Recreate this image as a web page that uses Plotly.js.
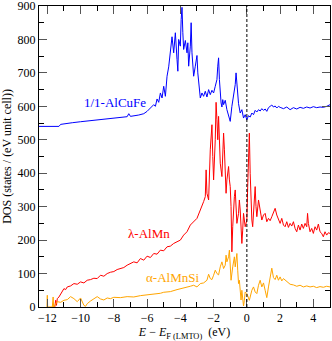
<!DOCTYPE html>
<html>
<head>
<meta charset="utf-8">
<script src="https://cdn.plot.ly/plotly-3.0.1.min.js"></script>
<style>
  html, body { margin: 0; padding: 0; background: #fff; }
  #chart { width: 332px; height: 341px; }
</style>
</head>
<body>
<div id="chart"></div>
<script>
// DOS curves (energy in eV, DOS in states / (eV unit cell)).
const alCuFeE = [-12.5, -11.3, -11.2, -11.0, -10.5, -10.0, -9.5, -9.0, -8.5, -8.0, -7.5, -7.2, -7.1, -7.0, -6.5, -6.2, -6.0, -5.8, -5.6, -5.5, -5.4, -5.3, -5.2, -5.1, -5.0, -4.9, -4.8, -4.7, -4.6, -4.5, -4.4, -4.3, -4.2, -4.15, -4.1, -4.0, -3.95, -3.9, -3.85, -3.8, -3.7, -3.6, -3.55, -3.5, -3.4, -3.35, -3.3, -3.25, -3.2, -3.1, -3.0, -2.95, -2.9, -2.8, -2.7, -2.6, -2.5, -2.4, -2.3, -2.2, -2.1, -2.0, -1.9, -1.8, -1.75, -1.7, -1.65, -1.6, -1.55, -1.5, -1.45, -1.4, -1.3, -1.2, -1.1, -1.0, -0.9, -0.8, -0.7, -0.65, -0.6, -0.55, -0.5, -0.4, -0.3, -0.2, -0.1, 0.0, 0.1, 0.2, 0.3, 0.4, 0.5, 0.6, 0.7, 0.8, 0.9, 1.0, 1.1, 1.2, 1.3, 1.4, 1.5, 1.6, 1.7, 1.8, 1.9, 2.0, 2.2, 2.4, 2.6, 2.8, 3.0, 3.2, 3.4, 3.6, 3.8, 4.0, 4.2, 4.4, 4.6, 4.8, 5.0];
const alCuFeDos = [540, 540, 546, 548, 551, 554, 557, 560, 562, 565, 568, 569, 578, 570, 574, 578, 585, 595, 605, 600, 622, 612, 640, 625, 660, 630, 690, 718, 770, 808, 760, 820, 740, 705, 800, 780, 860, 896, 820, 770, 797, 760, 790, 720, 780, 850, 760, 700, 690, 720, 752, 700, 680, 625, 640, 630, 645, 628, 650, 635, 648, 640, 660, 680, 720, 745, 680, 640, 610, 598, 620, 605, 618, 590, 575, 555, 600, 630, 665, 700, 670, 620, 608, 580, 590, 565, 575, 560, 572, 568, 580, 575, 588, 583, 590, 586, 593, 588, 592, 585, 596, 600, 604, 598, 601, 595, 600, 597, 593, 598, 590, 596, 592, 597, 594, 598, 595, 599, 596, 598, 597, 600, 605];

const alMnE = [-11.55, -11.5, -11.45, -11.4, -11.3, -11.2, -11.1, -11.0, -10.9, -10.8, -10.6, -10.4, -10.2, -10.0, -9.8, -9.6, -9.4, -9.2, -9.0, -8.8, -8.6, -8.4, -8.2, -8.0, -7.8, -7.6, -7.4, -7.2, -7.0, -6.8, -6.6, -6.4, -6.2, -6.0, -5.8, -5.6, -5.4, -5.2, -5.0, -4.8, -4.6, -4.4, -4.2, -4.0, -3.8, -3.6, -3.4, -3.2, -3.0, -2.8, -2.7, -2.6, -2.5, -2.45, -2.4, -2.3, -2.2, -2.1, -2.05, -2.0, -1.9, -1.85, -1.8, -1.75, -1.7, -1.65, -1.6, -1.5, -1.45, -1.4, -1.35, -1.3, -1.25, -1.2, -1.1, -1.05, -1.0, -0.95, -0.9, -0.85, -0.8, -0.75, -0.7, -0.65, -0.6, -0.5, -0.45, -0.4, -0.35, -0.3, -0.25, -0.2, -0.1, 0.0, 0.05, 0.1, 0.15, 0.2, 0.25, 0.3, 0.35, 0.45, 0.5, 0.55, 0.6, 0.7, 0.75, 0.8, 0.9, 1.0, 1.1, 1.2, 1.3, 1.4, 1.5, 1.6, 1.7, 1.8, 1.9, 2.0, 2.1, 2.2, 2.3, 2.4, 2.5, 2.6, 2.7, 2.8, 2.9, 3.0, 3.1, 3.2, 3.3, 3.4, 3.5, 3.6, 3.65, 3.7, 3.8, 3.9, 4.0, 4.1, 4.2, 4.3, 4.4, 4.5, 4.6, 4.7, 4.8, 4.9, 5.0];
const alMnDos = [0, 20, 5, 25, 30, 40, 50, 55, 52, 60, 63, 70, 68, 75, 72, 80, 82, 86, 85, 95, 92, 100, 104, 106, 112, 115, 118, 125, 130, 135, 132, 145, 140, 152, 148, 160, 158, 170, 168, 180, 182, 190, 195, 200, 215, 225, 245, 255, 265, 290, 300, 315, 330, 410, 340, 320, 470, 545, 450, 380, 500, 612, 560, 500, 570, 480, 430, 390, 450, 520, 470, 400, 340, 380, 420, 380, 360, 300, 165, 240, 300, 330, 350, 290, 250, 280, 320, 290, 250, 190, 230, 280, 240, 260, 360, 450, 520, 400, 300, 260, 240, 330, 360, 300, 270, 320, 300, 290, 260, 275, 280, 255, 265, 258, 270, 285, 295, 275, 262, 250, 265, 245, 240, 255, 238, 250, 242, 255, 235, 225, 245, 230, 248, 235, 250, 240, 280, 250, 225, 235, 220, 240, 230, 248, 225, 220, 210, 225, 215, 222, 220];

const alMnSiE = [-12.02, -12.0, -11.98, -11.7, -11.65, -11.62, -11.5, -11.4, -11.2, -11.0, -10.8, -10.6, -10.4, -10.2, -10.0, -9.8, -9.7, -9.6, -9.4, -9.2, -9.0, -8.8, -8.6, -8.4, -8.2, -8.0, -7.6, -7.2, -6.8, -6.4, -6.0, -5.6, -5.2, -5.0, -4.6, -4.2, -3.8, -3.4, -3.2, -3.0, -2.8, -2.6, -2.4, -2.3, -2.2, -2.1, -2.0, -1.9, -1.8, -1.7, -1.6, -1.5, -1.45, -1.4, -1.3, -1.25, -1.2, -1.1, -1.05, -1.0, -0.95, -0.85, -0.8, -0.75, -0.7, -0.6, -0.55, -0.5, -0.45, -0.4, -0.35, -0.3, -0.25, -0.2, -0.15, -0.1, 0.0, 0.1, 0.15, 0.3, 0.4, 0.5, 0.6, 0.7, 0.8, 0.9, 1.0, 1.1, 1.2, 1.3, 1.4, 1.5, 1.6, 1.7, 1.8, 1.9, 2.0, 2.1, 2.2, 2.3, 2.4, 2.5, 2.6, 2.8, 3.0, 3.2, 3.4, 3.6, 3.8, 4.0, 4.2, 4.4, 4.6, 4.8, 5.0];
const alMnSiDos = [0, 35, 0, 0, 30, 0, 10, 16, 14, 20, 22, 31, 25, 16, 27, 5, 2, 10, 18, 24, 31, 24, 21, 27, 25, 29, 28, 31, 30, 34, 36, 38, 41, 44, 46, 52, 56, 62, 65, 60, 70, 72, 80, 98, 85, 82, 95, 110, 100, 96, 120, 135, 125, 115, 125, 155, 135, 150, 170, 100, 80, 120, 145, 150, 120, 160, 110, 70, 80, 40, 21, 50, 30, 3, 20, 45, 40, 25, 20, 50, 60, 45, 40, 65, 80, 60, 72, 50, 28, 60, 95, 116, 88, 82, 95, 80, 90, 78, 85, 80, 75, 72, 68, 66, 62, 65, 60, 63, 60, 62, 58, 61, 59, 62, 60];

const seriesNames = ['1/1-AlCuFe', 'λ-AlMn', 'α-AlMnSi'];
const seriesColors = ['#0000ff', '#ff0000', '#ffa500'];
// where each name sits next to its curve (data coords)
const labelE = [-7.9, -5.86, -4.47];
const labelDos = [612, 221, 87];

const FONT = 'Liberation Serif';

const traces = [
  [alCuFeE, alCuFeDos],
  [alMnE, alMnDos],
  [alMnSiE, alMnSiDos],
].map(([x, y], i) => ({
  type: 'scatter', mode: 'lines',
  x, y,
  name: seriesNames[i],
  line: { color: seriesColors[i], width: 1 },
  hoverinfo: 'skip',
}));

const axisBase = {
  showline: true, linecolor: '#000', linewidth: 1,
  mirror: 'ticks',
  ticks: 'inside', ticklen: 8, tickwidth: 1, tickcolor: '#555',
  showgrid: false, zeroline: false,
  ticklabeloverflow: 'allow',
  tickfont: { family: FONT, size: 12, color: '#000' },
};

const layout = {
  width: 332, height: 341,
  margin: { l: 39, r: 2, t: 6, b: 34 },
  paper_bgcolor: '#fff', plot_bgcolor: '#fff',
  font: { family: FONT, size: 12, color: '#000' },
  showlegend: false,
  xaxis: Object.assign({}, axisBase, {
    range: [-12.5, 5], dtick: 2, tick0: 0,
    minor: { ticks: 'inside', ticklen: 5, dtick: 1, tickcolor: '#000' },
    title: { text: '<i>E</i> − <i>E</i><sub>F (LMTO)</sub>  (eV)', font: { family: FONT, size: 12 }, standoff: 2 },
  }),
  yaxis: Object.assign({}, axisBase, {
    range: [0, 900], dtick: 100, tick0: 0,
    minor: { ticks: 'inside', ticklen: 5, dtick: 50, tickcolor: '#000' },
    title: { text: 'DOS (states / (eV unit cell))', font: { family: FONT, size: 12 }, standoff: 4 },
  }),
  shapes: [{
    type: 'line', xref: 'x', yref: 'paper',
    x0: 0, x1: 0, y0: 0, y1: 1,
    line: { color: '#000', width: 1, dash: '3px,2px' },
  }],
  annotations: seriesNames.map((t, i) => ({
    x: labelE[i], y: labelDos[i], xref: 'x', yref: 'y',
    text: t, showarrow: false,
    font: { family: FONT, size: 13, color: seriesColors[i] },
  })),
};

Plotly.newPlot('chart', traces, layout, { displayModeBar: false, staticPlot: true });
</script>
</body>
</html>
